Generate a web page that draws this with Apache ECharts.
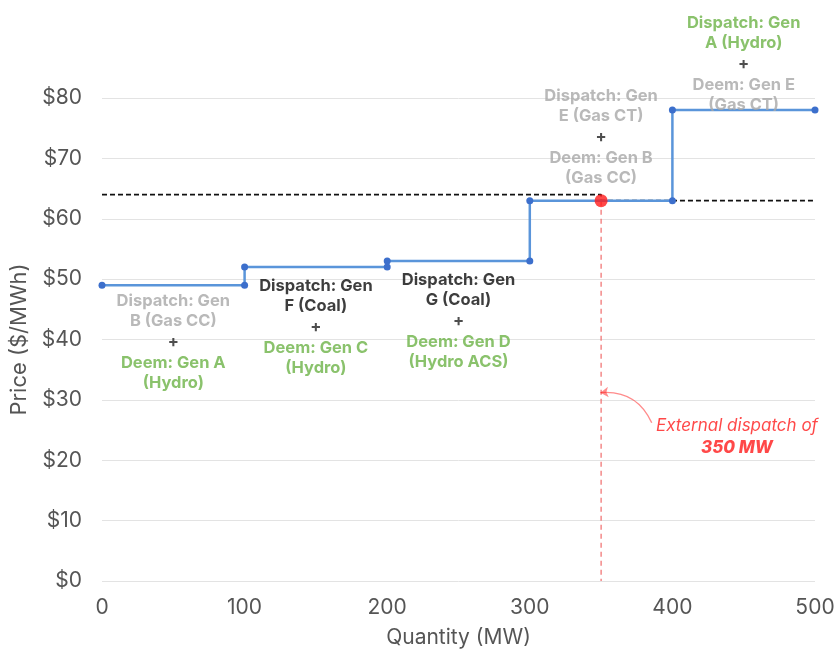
<!DOCTYPE html>
<html>
<head>
<meta charset="utf-8">
<script src="https://cdn.jsdelivr.net/npm/echarts@6/dist/echarts.min.js"></script>
<style>html,body{margin:0;padding:0;background:#fff;}#c{width:839px;height:653px;}</style>
</head>
<body>
<div id="c"></div>
<script>
// ---- data ----
const supplyQty   = [0, 100, 100, 200, 200, 300, 300, 400, 400, 500];
const supplyPrice = [49, 49, 52, 52, 53, 53, 63, 63, 78, 78];
const clearQty    = [0, 350, 350, 500];
const clearPrice  = [64, 64, 63, 63];
const dispatchQty = 350;
const dispatchPrice = 63;
const xTicks = [0, 100, 200, 300, 400, 500];
const yTicks = [0, 10, 20, 30, 40, 50, 60, 70, 80];
const annotQty   = [50, 150, 250, 350, 450];
const annotPrice = [39.6, 42.1, 43.1, 73.5, 85.7];
const dispatchLines = [['Dispatch: Gen','B (Gas CC)'],['Dispatch: Gen','F (Coal)'],['Dispatch: Gen','G (Coal)'],['Dispatch: Gen','E (Gas CT)'],['Dispatch: Gen','A (Hydro)']];
const dispatchTone  = ['gray','black','black','gray','green'];
const deemLines     = [['Deem: Gen A','(Hydro)'],['Deem: Gen C','(Hydro)'],['Deem: Gen D','(Hydro ACS)'],['Deem: Gen B','(Gas CC)'],['Deem: Gen E','(Gas CT)']];
const deemTone      = ['green','green','green','gray','gray'];
const noteText = ['External dispatch of', '350 MW'];
const noteAnchor = [388.5, 23.9];
const arrowFrom = [385.5, 26.2];
const arrowTo   = [349.5, 31.2];

const FONT = 'Inter, "Liberation Sans", sans-serif';
const chart = echarts.init(document.getElementById('c'));

const annotData = annotQty.map((q, i) => ({
  value: [q, annotPrice[i]],
  label: {
    formatter: dispatchLines[i].map(t => '{' + dispatchTone[i] + '|' + t + '}').join('\n') +
      '\n{p|+}\n' + deemLines[i].map(t => '{' + deemTone[i] + '|' + t + '}').join('\n')
  }
}));

const richBase = { fontFamily: FONT, fontSize: 16.5, fontWeight: 700, lineHeight: 20, align: 'center' };

chart.setOption({
  animation: false,
  backgroundColor: '#fff',
  grid: { left: 102, right: 24, top: 98, bottom: 69 },
  xAxis: {
    type: 'value', min: 0, max: 500, interval: 100,
    name: 'Quantity (MW)', nameLocation: 'middle', nameGap: 46,
    nameTextStyle: { fontFamily: FONT, fontSize: 21, color: '#555' },
    axisLine: { show: false }, axisTick: { show: false },
    splitLine: { show: false },
    axisLabel: { fontFamily: FONT, fontSize: 21, color: '#555', margin: 16,
      formatter: v => xTicks.includes(v) ? String(v) : '' }
  },
  yAxis: {
    type: 'value', min: 0, max: 80, interval: 10,
    name: 'Price ($/MWh)', nameLocation: 'middle', nameGap: 70,
    nameTextStyle: { fontFamily: FONT, fontSize: 22, color: '#555' },
    axisLine: { show: false }, axisTick: { show: false },
    splitLine: { show: true, lineStyle: { color: '#e3e3e3', width: 1 } },
    axisLabel: { fontFamily: FONT, fontSize: 21, color: '#555', margin: 20,
      formatter: v => yTicks.includes(v) ? '$' + v : '' }
  },
  series: [
    {
      type: 'line', name: 'clearing',
      data: clearQty.map((q, i) => [q, clearPrice[i]]),
      showSymbol: false, silent: true, z: 3,
      lineStyle: { color: '#111', width: 1.6, type: [5, 3] }
    },
    {
      type: 'line', name: 'supply',
      data: supplyQty.map((q, i) => [q, supplyPrice[i]]),
      symbol: 'circle', symbolSize: 7, z: 4,
      lineStyle: { color: '#5a95da', width: 2.5 },
      itemStyle: { color: '#3c6fcc' }
    },
    {
      type: 'line', name: 'dispatchLine',
      data: [[dispatchQty, dispatchPrice], [dispatchQty, 0]],
      showSymbol: false, z: 2,
      lineStyle: { color: '#f06a6a', width: 1.2, type: [5, 4] }
    },
    {
      type: 'scatter', name: 'dispatchPoint',
      data: [[dispatchQty, dispatchPrice]],
      symbolSize: 13, z: 6,
      itemStyle: { color: '#ff1a1a' }
    },
    {
      type: 'scatter', name: 'annotations', clip: false, z: 7,
      data: annotData, symbolSize: 0,
      label: {
        show: true, position: 'inside', color: '#111',
        rich: {
          gray:  Object.assign({}, richBase, { color: '#a8a8a8' }),
          black: Object.assign({}, richBase, { color: '#0d0d0d' }),
          green: Object.assign({}, richBase, { color: '#6db347' }),
          p:     Object.assign({}, richBase, { color: '#222', lineHeight: 22 })
        }
      }
    },
    {
      type: 'scatter', name: 'note', clip: false, z: 7,
      data: [{ value: noteAnchor }], symbolSize: 0,
      label: {
        show: true, position: 'right', distance: 0,
        formatter: '{a|' + noteText[0] + '}\n{b|' + noteText[1] + '}',
        rich: {
          a: { fontFamily: FONT, fontSize: 17, fontStyle: 'italic', color: '#ff1a1a', lineHeight: 22, align: 'center' },
          b: { fontFamily: FONT, fontSize: 17, fontStyle: 'italic', fontWeight: 800, color: '#ff1a1a', lineHeight: 22, align: 'center' }
        }
      }
    },
    {
      type: 'lines', name: 'arrow', coordinateSystem: 'cartesian2d', z: 7,
      symbol: ['none', 'arrow'], symbolSize: 8,
      lineStyle: { color: '#ff1a1a', width: 1.4, curveness: -0.35 },
      data: [{ coords: [arrowFrom, arrowTo] }]
    }
  ]
});
</script>
</body>
</html>
